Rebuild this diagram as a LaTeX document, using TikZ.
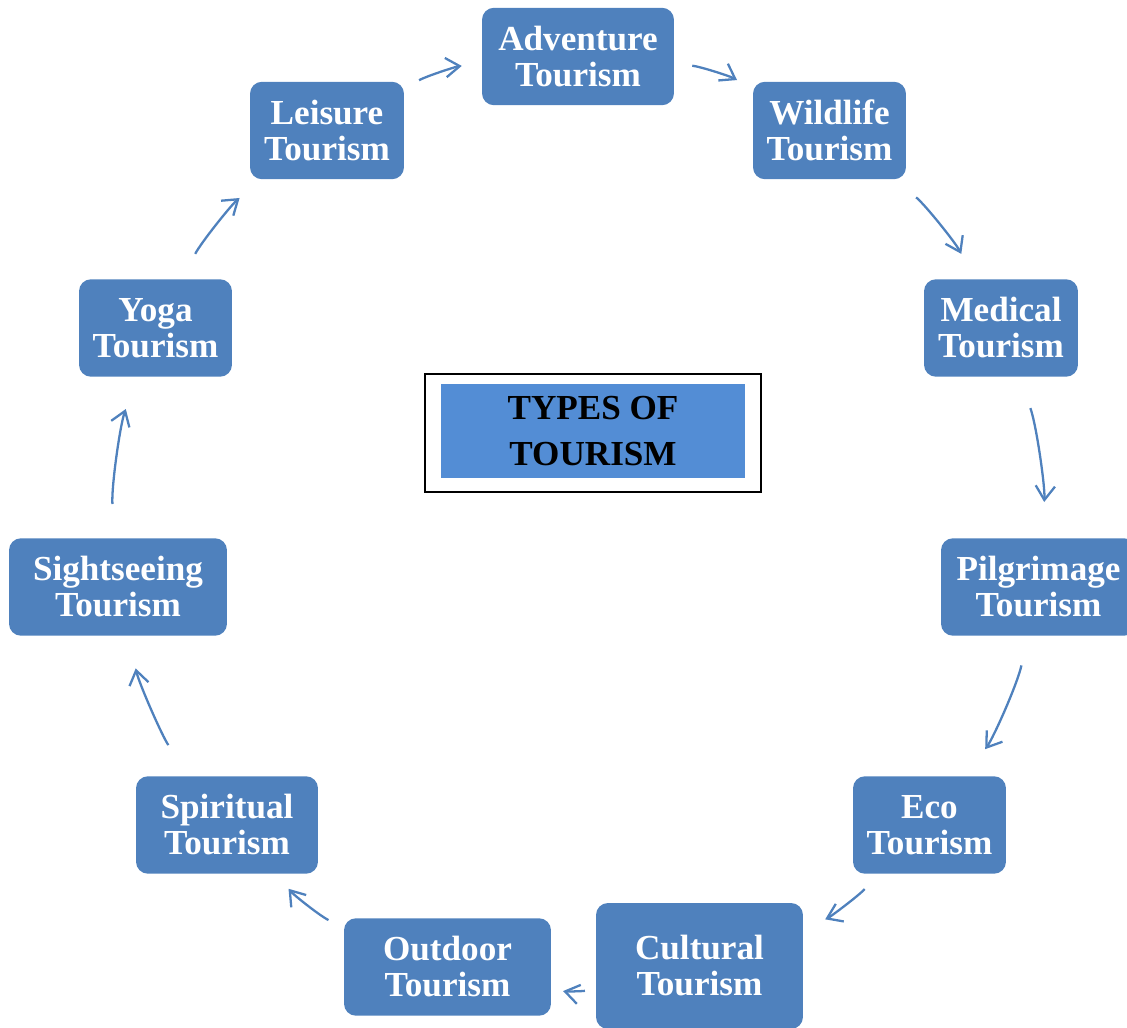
\documentclass[tikz,border=0pt]{standalone}
\usepackage{fontspec}
\setmainfont{Liberation Serif}
\usetikzlibrary{arrows.meta}
\definecolor{tblue}{HTML}{4F81BD}
\definecolor{hubblue}{HTML}{538DD5}
\tikzset{
  kind/.style={rounded corners=0.24cm, fill=tblue, text=white, align=center,
    minimum height=1.95cm, inner sep=0pt,
    font=\bfseries\fontsize{20}{20.5}\selectfont},
  cyc/.style={draw=tblue, line width=1.3pt, -{Straight Barb[length=8pt,width=11pt]}}
}
\begin{document}
\begin{tikzpicture}[x=0.02cm,y=0.02cm]
\useasboundingbox (0,0) rectangle (1127,-1028);
\node [kind,minimum width=3.84cm] (adventure) at (578,-56.5) {Adventure\\Tourism};
\node [kind,minimum width=3.06cm] (wildlife) at (829.5,-130.5) {Wildlife\\Tourism};
\node [kind,minimum width=3.08cm] (medical) at (1001,-328) {Medical\\Tourism};
\node [kind,minimum width=3.9cm] (pilgrimage) at (1038.5,-587) {Pilgrimage\\Tourism};
\node [kind,minimum width=3.06cm] (eco) at (929.5,-825) {Eco\\Tourism};
\node [kind,minimum width=4.14cm,minimum height=2.52cm] (cultural) at (699.5,-966) {Cultural\\Tourism};
\node [kind,minimum width=4.14cm] (outdoor) at (447.5,-967) {Outdoor\\Tourism};
\node [kind,minimum width=3.64cm] (spiritual) at (227,-825) {Spiritual\\Tourism};
\node [kind,minimum width=4.36cm] (sightseeing) at (118,-587) {Sightseeing\\Tourism};
\node [kind,minimum width=3.06cm] (yoga) at (155.5,-328) {Yoga\\Tourism};
\node [kind,minimum width=3.08cm] (leisure) at (327,-130.5) {Leisure\\Tourism};

% centre box
\node [draw=black, line width=1.1pt, minimum width=6.72cm, minimum height=2.36cm] (typesframe) at (593,-433) {};
\node [fill=hubblue, minimum width=6.08cm, minimum height=1.88cm, align=center,
  font=\bfseries\fontsize{20}{26}\selectfont] (types) at (593,-431) {TYPES OF\\TOURISM};

\draw [cyc, shorten <=0.34cm, shorten >=0.40cm] (leisure) to[bend left=12,looseness=0.8] (adventure);
\draw [cyc, shorten <=0.36cm, shorten >=0.36cm] (adventure) to[bend left=12,looseness=0.8] (wildlife);
\draw [cyc, shorten <=0.56cm, shorten >=0.56cm] (wildlife) to[bend left=12,looseness=0.8] (medical);
\draw [cyc, shorten <=0.66cm, shorten >=0.72cm] (medical) to[bend left=12,looseness=0.8] (pilgrimage);
\draw [cyc, shorten <=0.60cm, shorten >=0.66cm] (pilgrimage) to[bend left=12,looseness=0.8] (eco);
\draw [cyc, shorten <=0.40cm, shorten >=0.48cm] (eco) to[bend left=12,looseness=0.8] (cultural);
\draw [cyc, shorten <=0.22cm, shorten >=0.24cm] (cultural) to[bend left=12,looseness=0.8] (outdoor);
\draw [cyc, shorten <=0.34cm, shorten >=0.38cm] (outdoor) to[bend left=12,looseness=0.8] (spiritual);
\draw [cyc, shorten <=0.76cm, shorten >=0.66cm] (spiritual) to[bend left=12,looseness=0.8] (sightseeing);
\draw [cyc, shorten <=0.68cm, shorten >=0.68cm] (sightseeing) to[bend left=12,looseness=0.8] (yoga);
\draw [cyc, shorten <=0.56cm, shorten >=0.58cm] (yoga) to[bend left=12,looseness=0.8] (leisure);
\end{tikzpicture}
\end{document}
